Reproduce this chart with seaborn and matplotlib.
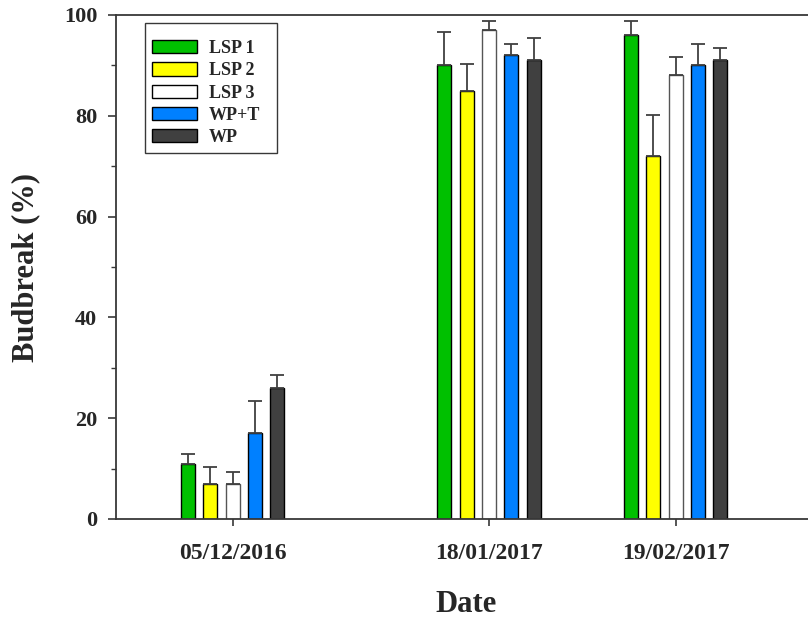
import numpy as np
import pandas as pd
import matplotlib
matplotlib.use("Agg")
import matplotlib.pyplot as plt
import seaborn as sns

# ---- data ----
dates = ["05/12/2016", "18/01/2017", "19/02/2017"]
treatments = ["LSP 1", "LSP 2", "LSP 3", "WP+T", "WP"]
lsp1 = [11, 90, 96]
lsp1_err = [1.8, 6.6, 2.8]
lsp2 = [7, 85, 72]
lsp2_err = [3.3, 5.2, 8.1]
lsp3 = [7, 97, 88]
lsp3_err = [2.3, 1.9, 3.6]
wpt = [17, 92, 90]
wpt_err = [6.5, 2.3, 4.2]
wp = [26, 91, 91]
wp_err = [2.6, 4.4, 2.4]
colors = ["#00C000", "#FFFF00", "#FFFFFF", "#0080FF", "#404040"]

values = [lsp1, lsp2, lsp3, wpt, wp]
errors = [lsp1_err, lsp2_err, lsp3_err, wpt_err, wp_err]

dt = pd.to_datetime(dates, dayfirst=True)
days = [(d - dt[0]).days for d in dt]

rows = []
for t, vals in zip(treatments, values):
    for d, v in zip(days, vals):
        rows.append({"day": d, "treatment": t, "value": v})
df = pd.DataFrame(rows)

# ---- style ----
sns.set_theme(style="ticks")
plt.rcParams["font.family"] = ["Liberation Serif", "DejaVu Serif"]
plt.rcParams["font.weight"] = "bold"
plt.rcParams["axes.labelweight"] = "bold"

W, H = 808, 618
fig = plt.figure(figsize=(W / 100, H / 100), dpi=100)
ax = fig.add_axes([116 / W, 1 - 519 / H, 699.5 / W, 504 / H])

sns.barplot(data=df, x="day", y="value", hue="treatment", hue_order=treatments,
            palette=colors, native_scale=True, width=0.6, gap=0.375,
            errorbar=None, edgecolor="black", linewidth=1.0, saturation=1,
            ax=ax)

# one-sided error bars at the bar positions
for cont, errs, vals in zip(ax.containers, errors, values):
    bars = sorted(cont.patches, key=lambda b: b.get_x())
    xs = [b.get_x() + b.get_width() / 2 for b in bars]
    ax.errorbar(xs, vals, yerr=[np.zeros(len(errs)), errs], fmt="none",
                ecolor="#404040", elinewidth=1.3, capsize=5, capthick=1.3,
                zorder=1)
for b in ax.containers[2].patches:
    b.set_edgecolor("#555555")

ax.set_xlim(-20, 100)
ax.set_ylim(0, 100)
ax.set_xticks(days)
ax.set_xticklabels(dates)
ax.set_yticks(np.arange(0, 101, 20))
ax.set_yticks(np.arange(10, 100, 20), minor=True)

for s in ["left", "bottom", "top"]:
    ax.spines[s].set_visible(True)
    ax.spines[s].set_color("#383838")
    ax.spines[s].set_linewidth(1.3)
ax.spines["right"].set_visible(False)

ax.tick_params(axis="y", which="major", direction="out", length=5.5, width=1.2,
               pad=8, labelsize=16, color="#383838", left=True)
ax.tick_params(axis="y", which="minor", direction="out", length=3.5, width=1.0,
               color="#383838", left=True)
ax.tick_params(axis="x", which="major", direction="out", length=5, width=1.2,
               pad=12, labelsize=17, color="#383838", bottom=True)
ax.tick_params(axis="x", which="minor", bottom=False)
for lab in ax.get_xticklabels() + ax.get_yticklabels():
    lab.set_fontweight("bold")

ax.set_xlabel("Date", fontsize=22, fontweight="bold")
ax.set_ylabel("Budbreak (%)", fontsize=22, fontweight="bold")
ax.xaxis.set_label_coords(0.5, -0.140)
ax.yaxis.set_label_coords(-0.109, 0.5)

lx0, lx1, ltop = 144.5, 277.0, 22.7
sns.move_legend(ax, "upper left",
                bbox_to_anchor=(lx0 / W, 1 - ltop / H - 0.3, (lx1 - lx0) / W, 0.3),
                bbox_transform=fig.transFigure, mode="expand",
                title=" ", title_fontsize=4.3, frameon=True,
                fontsize=13, handlelength=2.49, handleheight=0.75,
                handletextpad=0.66, borderpad=0.4, labelspacing=0.29,
                borderaxespad=0, fancybox=False, edgecolor="#383838",
                framealpha=1)
leg = ax.get_legend()
leg.get_frame().set_linewidth(1.0)
for txt in leg.get_texts():
    txt.set_fontweight("bold")

fig.savefig("out.png", dpi=100)
